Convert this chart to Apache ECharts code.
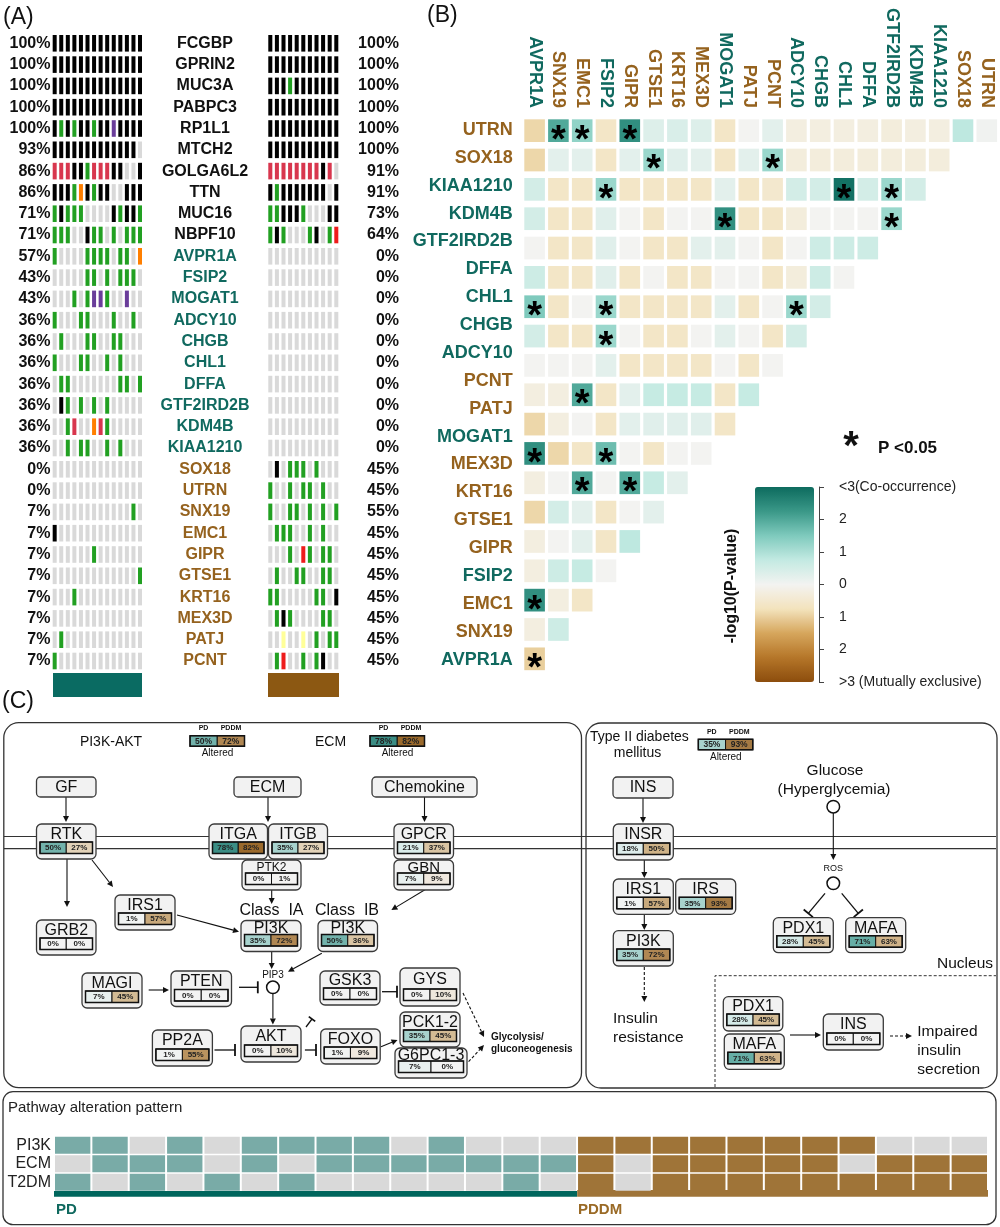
<!DOCTYPE html>
<html><head><meta charset="utf-8">
<script src="https://cdn.jsdelivr.net/npm/echarts@6/dist/echarts.min.js"></script>
<style>html,body{margin:0;padding:0;background:#fff}#c{width:1000px;height:1227px}</style>
</head><body><div id="c"></div>
<script>
// ================= DATA =================
const genes = ['FCGBP','GPRIN2','MUC3A','PABPC3','RP1L1','MTCH2','GOLGA6L2','TTN','MUC16','NBPF10',
  'AVPR1A','FSIP2','MOGAT1','ADCY10','CHGB','CHL1','DFFA','GTF2IRD2B','KDM4B','KIAA1210',
  'SOX18','UTRN','SNX19','EMC1','GIPR','GTSE1','KRT16','MEX3D','PATJ','PCNT'];
const pdPctLabels = ['100%','100%','100%','100%','100%','93%','86%','86%','71%','71%',
  '57%','43%','43%','36%','36%','36%','36%','36%','36%','36%',
  '0%','0%','7%','7%','7%','7%','7%','7%','7%','7%'];
const pddmPctLabels = ['100%','100%','100%','100%','100%','100%','91%','91%','73%','64%',
  '0%','0%','0%','0%','0%','0%','0%','0%','0%','0%',
  '45%','45%','55%','45%','45%','45%','45%','45%','45%','45%'];
// K truncating/black, G missense/green, P purple, R crimson, O orange, Y yellow, r red, . none
const pdAlterations = ['KKKKKKKKKKKKKK','KKKKKKKKKKKKKK','KKKKKKKKKKKKKK','KKKKKKKKKKKKKK','KGKGKKGKKPKKKK',
  'KKKKKKKKKKKKK.','RRRKKGRRRKK..K','KKKGOKGKK..KKK','GKGGG....KGKKG','GGG..KGG.G.GGG',
  'G....GGGG.GG.O','.....GG.G.GGG.','...G.GPPG..P..','G...GG...G..G.','.G...GG..GG...',
  'G...GG..G.G...','.GG.......GG.G','.KG.G.G.G.....','..GR..ORG.....','..G.GG..G.G...',
  '..............','..............','............G.','K.............','......G.......',
  '.............G','...G..........','..............','.G............','G.............'];
const pddmAlterations = ['KKKKKKKKKKK','KKKKKKKKKKK','KKKGKKKKKKK','KKKKKKKKKKK','KKKKKKKKKKK',
  'KKKKKKKKKKK','RRRRRRRRKR.','KGKKKKKKK.K','GGKKKG...KK','GKG...GK.Gr',
  '...........','...........','...........','...........','...........',
  '...........','...........','...........','...........','...........',
  '.K.GGG.G...','G..G.GG.G..','G..GG.G.G.G','.GGG..G.G..','...G.rG.GG.',
  '.G..GG..GG.','GG.....GG.K','.GKG....GG.','..Y..Y.G.GG','.Gr..G.GK..'];

const heatGenes = ['AVPR1A','SNX19','EMC1','FSIP2','GIPR','GTSE1','KRT16','MEX3D','MOGAT1','PATJ',
  'PCNT','ADCY10','CHGB','CHL1','DFFA','GTF2IRD2B','KDM4B','KIAA1210','SOX18','UTRN'];
const heatValues = [
 [-0.9,2.0,1.3,-0.6,2.4,0.35,0.4,0.35,-0.6,0,0.25,-0.25,-0.25,-0.25,-0.25,-0.3,-0.25,-0.25,0.8,0.05],
 [-0.9,0.25,0.25,-0.6,0.25,1.2,0.3,0.25,-0.6,0.25,1.2,-0.3,-0.3,-0.3,-0.3,-0.3,-0.3,-0.3],
 [0.5,-0.6,-0.6,1.2,-0.6,-0.6,-0.6,-0.6,0.25,-0.6,-0.5,0.5,0.5,2.9,0.5,1.2,0.5],
 [0.5,-0.6,-0.6,0.3,0,-0.6,0,0,2.4,-0.6,-0.6,-0.3,0,0,0,1.2],
 [0,-0.6,-0.6,0.3,0,-0.6,-0.6,0.25,0.25,0,-0.6,0,0.6,0.6,0.6],
 [0.6,-0.6,-0.6,0.3,-0.6,0,-0.6,-0.6,0,0,-0.6,-0.3,0.6,0],
 [1.5,-0.6,0,1.2,-0.6,-0.6,-0.6,-0.6,0.25,-0.6,0,1.2,0.5],
 [0.5,-0.6,-0.6,1.2,0,-0.6,-0.6,0,0.25,0,-0.6,0.5],
 [0,0,0,0.25,-0.6,-0.6,-0.6,-0.6,0,-0.6,0],
 [-0.25,-0.25,2.0,-0.6,0.25,0.7,0.7,0.7,-0.6,0.7],
 [-0.9,-0.25,0,-0.6,0.25,0.3,0.3,0.3,-0.6],
 [2.4,-0.9,-0.6,1.7,0,-0.6,0,0],
 [-0.25,0,2.0,0,2.0,0.7,0.25],
 [-0.9,0.5,0.25,-0.6,0,0.25],
 [-0.25,0,0.25,-0.6,0.8],
 [-0.25,0.6,0.7,0],
 [2.4,-0.25,-0.6],
 [-0.25,0.6],
 [-1.0]
];
const heatStars = [[1,2,4],[5,10],[3,13,15],[8,15],[],[],[0,3,11],[3],[],[2],[],[0,3],[2,4],[],[],[],[0],[],[0]];
const colorbarTicks = [-3,-2,-1,0,1,2,3];

const pathwayRows = ['PI3K','ECM','T2DM'];
const pathwayPD = [
 [1,1,0,1,0,1,1,1,1,0,1,0,0,0],
 [0,1,1,1,0,1,0,1,1,1,1,1,1,1],
 [1,0,1,0,1,0,1,0,0,0,0,0,1,0]];
const pathwayPDDM = [
 [1,1,1,1,1,1,1,1,0,0,0],
 [1,0,1,1,1,1,1,0,1,1,1],
 [1,0,1,1,1,1,1,1,1,1,1]];

const nodeNames = ['RTK','ITGA','ITGB','PTK2','GPCR','GBN','IRS1','GRB2','PI3K','PI3K','MAGI','PTEN','GSK3','GYS',
  'AKT','PP2A','FOXO','PCK1-2','G6PC1-3','INSR','IRS1','IRS','PI3K','PDX1','MAFA','PDX1','MAFA','INS'];
const nodePD =   [50,78,35,0,21,7,1,0,35,50,7,0,0,0,0,1,1,35,7,18,1,35,35,28,71,28,71,0];
const nodePDDM = [27,82,27,1,37,9,57,0,72,36,45,0,0,10,10,55,9,45,0,50,57,93,72,45,63,45,63,0];
const pathwayPDAltered = [50,78,35];
const pathwayPDDMAltered = [72,82,93];

// ================= LAYOUT / STYLE =================
const F = '"Liberation Sans", Arial, sans-serif';
const TEAL = '#10695f', BROWN = '#95621e';
const CODE = 'KGPROYr.';
const CODE_COL = ['#000000','#22a022','#6a3d9a','#d8364e','#ff7f00','#ffff99','#ee1c1c','#d9d9d9'];
function geneColor(name){ const i = genes.indexOf(name); return i < 10 ? '#111' : (i < 20 ? TEAL : BROWN); }
function range(n){ return Array.from({length:n},(_, i)=>String(i)); }

function hex(h){ return [1,3,5].map(i=>parseInt(h.substr(i,2),16)); }
function mix(a,b,t){ const pa=hex(a), pb=hex(b); return 'rgb('+pa.map((x,i)=>Math.round(x+(pb[i]-x)*t)).join(',')+')'; }
function lerp(stops, v){ for (let k=1;k<stops.length;k++){ if (v<=stops[k][0]){ const t=(v-stops[k-1][0])/(stops[k][0]-stops[k-1][0]); return mix(stops[k-1][1],stops[k][1],t);} } return stops[stops.length-1][1]; }
const PD_STOPS = [[0,'#f3f3f3'],[10,'#e3eeed'],[28,'#d5eae8'],[35,'#a7d2cd'],[50,'#72b2ab'],[71,'#66aea6'],[78,'#3b8d84'],[100,'#1d7a70']];
const PDDM_STOPS = [[0,'#f3f3f3'],[10,'#eee7dc'],[27,'#e2d2b8'],[37,'#d9c4a3'],[45,'#d3bb94'],[50,'#cfb388'],[55,'#b9935f'],[57,'#c8a97c'],[63,'#d0b389'],[72,'#b08753'],[82,'#9b6a2c'],[93,'#a47a44'],[100,'#a47a44']];
const pdColor = v => lerp(PD_STOPS, v);
const pddmColor = v => lerp(PDDM_STOPS, v);

// ---------- series data builders ----------
function onco(alts){ const d=[]; alts.forEach((s,row)=>{ for (let c=0;c<s.length;c++) d.push([c,row,CODE.indexOf(s[c])]); }); return d; }
const heatData = [];
heatValues.forEach((rowVals,r)=>rowVals.forEach((v,c)=>heatData.push([c,r,v,heatStars[r].indexOf(c)>=0?1:0])));
const pathData = [];
pathwayRows.forEach((_,r)=>{
  pathwayPD[r].forEach((v,c)=>pathData.push([c,r,v,0]));
  pathwayPDDM[r].forEach((v,c)=>pathData.push([c+pathwayPD[r].length,r,v,1]));
});

function barRender(wr,hr){
  return function(params, api){
    const p = api.coord([api.value(0), api.value(1)]); const s = api.size([1,1]);
    const w = s[0]*wr, h = s[1]*hr;
    return {type:'rect', shape:{x:p[0]-w/2, y:p[1]-h/2, width:w, height:h}, style:{fill:CODE_COL[api.value(2)]}};
  };
}
function heatRender(params, api){
  const p = api.coord([api.value(0), api.value(1)]); const s = api.size([1,1]);
  const w = s[0]*0.866, h = s[1]*0.774;
  const ch = [{type:'rect', shape:{x:p[0]-w/2, y:p[1]-h/2, width:w, height:h}, style:{fill:api.visual('color')}}];
  if (api.value(3)) ch.push({type:'text', x:p[0], y:p[1]+11, style:{text:'*', fontSize:38, fontWeight:'bold', fontFamily:F, fill:'#000', align:'center', verticalAlign:'middle'}});
  return {type:'group', children:ch};
}
function pathRender(params, api){
  const p = api.coord([api.value(0), api.value(1)]); const s = api.size([1,1]);
  const w = s[0]-2, h = s[1]-1.6;
  const fill = api.value(2) ? (api.value(3) ? '#9f7438' : '#79aba7') : '#d9d9d9';
  return {type:'rect', shape:{x:p[0]-w/2, y:p[1]-h/2, width:w, height:h}, style:{fill}};
}

// ---------- graphic helpers ----------
function txt(x,y,s,fs,opt){ return {type:'text', x, y, silent:true, style:Object.assign({text:s, fontSize:fs, fontFamily:F, fill:'#111', align:'center', verticalAlign:'middle'}, opt||{})}; }
function line(x1,y1,x2,y2,opt){ return {type:'line', silent:true, shape:{x1,y1,x2,y2}, style:Object.assign({stroke:'#111', lineWidth:1.1}, opt||{})}; }
function arrow(x1,y1,x2,y2,dashed){
  const a=Math.atan2(y2-y1,x2-x1), L=6, W=3;
  const bx=x2-L*Math.cos(a), by=y2-L*Math.sin(a), px=-Math.sin(a)*W, py=Math.cos(a)*W;
  const st = dashed ? {lineDash:[3,2]} : {};
  return [line(x1,y1,bx,by,st), {type:'polygon', silent:true, shape:{points:[[x2,y2],[bx+px,by+py],[bx-px,by-py]]}, style:{fill:'#111'}}];
}
function inhibit(x1,y1,x2,y2,bar){
  const a=Math.atan2(y2-y1,x2-x1), px=-Math.sin(a)*bar/2, py=Math.cos(a)*bar/2;
  return [line(x1,y1,x2,y2,{lineWidth:1.3}), line(x2+px,y2+py,x2-px,y2-py,{lineWidth:1.8})];
}
function circle(cx,cy){ return {type:'circle', silent:true, shape:{cx,cy,r:6.3}, style:{fill:'#fff', stroke:'#111', lineWidth:1.5}}; }
function frame(x,y,w,h,r){ return {type:'rect', silent:true, shape:{x,y,width:w,height:h,r}, style:{fill:'none', stroke:'#333', lineWidth:1.3}}; }
function labelBox(x,y,w,h,s){ return [{type:'rect', silent:true, shape:{x,y,width:w,height:h,r:4}, style:{fill:'#f2f2f2', stroke:'#3a3a3a', lineWidth:1.3}}, txt(x+w/2,y+h/2+0.5,s,16)]; }
function pctCells(x,y,w,h,pd,pddm,fs){
  const cw=w/2;
  return [
    {type:'rect', silent:true, shape:{x,y,width:cw,height:h}, style:{fill:pdColor(pd), stroke:'#111', lineWidth:1}},
    {type:'rect', silent:true, shape:{x:x+cw,y,width:cw,height:h}, style:{fill:pddmColor(pddm), stroke:'#111', lineWidth:1}},
    {type:'rect', silent:true, shape:{x,y,width:w,height:h}, style:{fill:'none', stroke:'#111', lineWidth:1.5}},
    txt(x+cw/2, y+h/2+0.5, pd+'%', fs, {fontWeight:'bold', fill:'#222'}),
    txt(x+cw*1.5, y+h/2+0.5, pddm+'%', fs, {fontWeight:'bold', fill:'#222'})
  ];
}
// node box positions (layout only): x, y, w, h, name font size
const nodeLayout = [
 [36.5,824,59.5,35],[209,824,58.5,35],[268.5,824,59,35],[242,860,59,30,12],[394,824,59.5,35],[394,860,59.5,30,15],
 [115,895,60,35],[36.5,920,59.5,35],[241,920.5,60,31],[318,920.5,59.5,31],[82,973,60,35],[171,971,60.5,35.5],
 [320,971,60,34],[400,968,60,38],[241,1026,60,36],[152.4,1030,60,36],[320.7,1029,59.5,35],[400,1012,60,35],[395,1048,72,30],
 [613.3,824,60,36],[613.3,879,60,35.3],[675.7,879,60,35.3],[613.3,930.7,60,35.3],[773.3,917.7,60,35],[845.7,917.7,60,35],
 [723.3,996.7,59.5,34.3],[724.3,1034,60,35.3],[823.3,1014,60,36]
];
function nodeBox(i){
  const [x,y,w,h,nf] = nodeLayout[i];
  const cellTop = y+h-17;
  return [
    {type:'rect', silent:true, shape:{x,y,width:w,height:h,r:5}, style:{fill:'#f2f2f2', stroke:'#3a3a3a', lineWidth:1.3}},
    txt(x+w/2, y+(h-17)/2+1.5, nodeNames[i], nf||16)
  ].concat(pctCells(x+3.5, cellTop, w-7, 11.5, nodePD[i], nodePDDM[i], 8));
}
function legend(x,y,k){
  return [txt(x+13.5,y-7.5,'PD',7,{fontWeight:'bold'}), txt(x+41,y-7.5,'PDDM',7,{fontWeight:'bold'})]
    .concat(pctCells(x,y,54.5,10.5,pathwayPDAltered[k],pathwayPDDMAltered[k],8.5))
    .concat([txt(x+27.5,y+18,'Altered',10)]);
}

let G = [];
// panel labels
G.push(txt(3,18,'(A)',23,{align:'left'}), txt(427,16,'(B)',23,{align:'left'}), txt(2,702,'(C)',23,{align:'left'}));
// group bars panel A
G.push({type:'rect', silent:true, shape:{x:53,y:673,width:89,height:24}, style:{fill:'#0a6b62'}});
G.push({type:'rect', silent:true, shape:{x:268,y:673,width:71,height:24}, style:{fill:'#8c5812'}});
// panel B legend texts
G.push(txt(851,448,'*',40,{fontWeight:'bold'}), txt(878,448,'P <0.05',17,{fontWeight:'bold', align:'left'}));
G.push({type:'text', x:732, y:586, rotation:Math.PI/2, silent:true, style:{text:'-log10(P-value)', fontSize:16, fontWeight:'bold', fontFamily:F, fill:'#111', align:'center', verticalAlign:'middle'}});
// panel C frames and membrane
G.push(frame(3.8,722.7,577.7,365,15), frame(586,723,411,365,15), frame(3,1091.7,993,133,10));
G.push(line(4,836.5,996,836.5,{lineWidth:1.2,stroke:'#333'}), line(4,848.7,996,848.7,{lineWidth:1.2,stroke:'#333'}));
// titles & legends
G.push(txt(111,742,'PI3K-AKT',14), txt(330.5,742,'ECM',14));
G = G.concat(legend(190,735.7,0), legend(370,735.7,1), legend(698.3,739.3,2));
G.push(txt(590,737,'Type II diabetes',14,{align:'left'}), txt(637.5,753,'mellitus',14));
// arrows (left box)
[
 arrow(66,797,66,822), arrow(268,797,268,822), arrow(424.5,797,424.5,822),
 arrow(67,859,67,907), arrow(92,860,113,887), arrow(271.7,890,271.7,904),
 arrow(432.8,885,391.4,910), arrow(177,915,239,931.7), arrow(271.7,951.5,271.7,969),
 arrow(321.8,953.3,288,971.7), arrow(148.7,990,169,990), arrow(272.9,993.6,272.9,1024.5),
 arrow(381,1046.7,397.5,1040), arrow(463,993,484,1037,true), arrow(468.6,1061.7,484,1045,true),
 inhibit(239,987.3,257.8,987.3,12), inhibit(382,991.7,397,991.7,12), inhibit(214.5,1050,235,1050,12),
 inhibit(304.9,1050,316,1050,12), inhibit(306,1027,312,1019,8),
 // right box
 arrow(643,798,643,823), arrow(644.3,860,644.3,878), arrow(644.3,914.3,644.3,930),
 arrow(644.3,967,644.3,1002,true), arrow(833.3,813,833.3,860),
 inhibit(825,893.3,808.3,913.3,12), inhibit(841.7,893.3,858.3,913.3,12),
 arrow(790,1035,821,1035), arrow(890,1036,912,1036,true)
].forEach(a=>{ G = G.concat(a); });
G.push(circle(272.9,987.3), circle(833.3,806.7), circle(833.3,883.3));
// label-only boxes
G = G.concat(labelBox(36.5,777,59.5,20,'GF'), labelBox(234,777,67,20,'ECM'), labelBox(372,777,105,20,'Chemokine'), labelBox(613,777,60,21,'INS'));
// gene nodes
nodeNames.forEach((_,i)=>{ G = G.concat(nodeBox(i)); });
// other texts panel C
G.push(txt(271.5,911,'Class  IA',16), txt(347,911,'Class  IB',16), txt(273,975.5,'PIP3',10));
G.push(txt(491,1037.5,'Glycolysis/',10,{fontWeight:'bold',align:'left'}), txt(491,1049.5,'gluconeogenesis',10,{fontWeight:'bold',align:'left'}));
G.push(txt(835,771,'Glucose',15.5), txt(834,790,'(Hyperglycemia)',15.5), txt(833.3,869,'ROS',9));
G.push(txt(613,1019,'Insulin',15.5,{align:'left'}), txt(613,1038,'resistance',15.5,{align:'left'}));
G.push(txt(993,964,'Nucleus',15.5,{align:'right'}));
G.push({type:'polyline', silent:true, shape:{points:[[715,1087],[715,975.7],[996,975.7]]}, style:{stroke:'#333', lineWidth:1, lineDash:[3,2], fill:'none'}});
G.push(txt(917.3,1032,'Impaired',15.5,{align:'left'}), txt(917.3,1051,'insulin',15.5,{align:'left'}), txt(917.3,1070,'secretion',15.5,{align:'left'}));
// bottom panel
G.push(txt(8,1108,'Pathway alteration pattern',15,{align:'left', fill:'#222'}));
G.push({type:'rect', silent:true, shape:{x:54,y:1191,width:523.2,height:5.7}, style:{fill:'#00665d'}});
G.push({type:'rect', silent:true, shape:{x:577.2,y:1190,width:410.8,height:6.7}, style:{fill:'#9f7438'}});
G.push(txt(56,1210,'PD',15,{fontWeight:'bold', align:'left', fill:TEAL}), txt(578,1210,'PDDM',15,{fontWeight:'bold', align:'left', fill:'#9a6a26'}));

// ================= OPTION =================
const noLine = {axisLine:{show:false}, axisTick:{show:false}, splitLine:{show:false}};
const option = {
  animation:false,
  textStyle:{fontFamily:F},
  grid:[
    {left:51.4, top:32.65, width:91.9, height:639},
    {left:267, top:32.65, width:72.6, height:639},
    {left:522.7, top:116, width:476, height:557.5},
    {left:54, top:1136, width:934, height:55.5},
    {left:819, top:487, width:1, height:195}
  ],
  xAxis:[
    {gridIndex:0, type:'category', data:range(14), show:false},
    {gridIndex:1, type:'category', data:range(11), show:false},
    Object.assign({gridIndex:2, type:'category', data:heatGenes, position:'top',
      axisLabel:{interval:0, rotate:90, margin:8, fontSize:18, fontWeight:'bold', fontFamily:F, color:v=>geneColor(v)}}, noLine),
    {gridIndex:3, type:'category', data:range(25), show:false},
    {gridIndex:4, type:'value', min:0, max:1, show:false}
  ],
  yAxis:[
    Object.assign({gridIndex:0, type:'category', data:genes, inverse:true,
      axisLabel:{interval:0, margin:1, fontSize:16, fontWeight:'bold', fontFamily:F, color:'#111', formatter:(v,i)=>pdPctLabels[i]}}, noLine),
    Object.assign({gridIndex:1, type:'category', data:genes, inverse:true, position:'left',
      axisLabel:{interval:0, margin:62, align:'center', fontSize:16, fontWeight:'bold', fontFamily:F, color:v=>geneColor(v)}}, noLine),
    Object.assign({gridIndex:1, type:'category', data:genes, inverse:true, position:'right',
      axisLabel:{interval:0, margin:59.4, align:'right', fontSize:16, fontWeight:'bold', fontFamily:F, color:'#111', formatter:(v,i)=>pddmPctLabels[i]}}, noLine),
    {gridIndex:2, type:'category', data:range(heatValues.length), inverse:true, show:false},
    Object.assign({gridIndex:2, type:'category', data:heatGenes.slice().reverse(), inverse:true, position:'left',
      axisLabel:{interval:0, margin:10, fontSize:18, fontWeight:'bold', fontFamily:F, color:v=>geneColor(v)}}, noLine),
    Object.assign({gridIndex:3, type:'category', data:pathwayRows, inverse:true,
      axisLabel:{interval:0, margin:3, fontSize:16, fontFamily:F, color:'#222'}}, noLine),
    {gridIndex:4, type:'value', min:colorbarTicks[0], max:colorbarTicks[colorbarTicks.length-1], interval:1, position:'right',
      splitLine:{show:false}, axisLine:{show:true, lineStyle:{color:'#444', width:1}},
      axisTick:{show:true, length:5, lineStyle:{color:'#444'}},
      axisLabel:{margin:19, fontSize:14, fontFamily:F, color:'#222',
        formatter:v=> v===3 ? '<3(Co-occurrence)' : (v===-3 ? '>3 (Mutually exclusive)' : String(Math.abs(v)))}}
  ],
  visualMap:[{type:'continuous', seriesIndex:2, dimension:2, min:-3, max:3, left:755, top:487,
    itemWidth:59, itemHeight:195, calculable:false, padding:0, text:null, showLabel:false, hoverLink:false,
    inRange:{color:['#8c4d0d','#b57629','#d6a65c','#f3e3bd','#f3f3f1','#c3eae2','#7fcabd','#3a9888','#0d6b5e']}}],
  series:[
    {type:'custom', xAxisIndex:0, yAxisIndex:0, data:onco(pdAlterations), renderItem:barRender(0.61,0.78), silent:true},
    {type:'custom', xAxisIndex:1, yAxisIndex:1, data:onco(pddmAlterations), renderItem:barRender(0.61,0.78), silent:true},
    {type:'custom', xAxisIndex:2, yAxisIndex:3, data:heatData, renderItem:heatRender, silent:true, encode:{x:0, y:1}},
    {type:'custom', xAxisIndex:3, yAxisIndex:5, data:pathData, renderItem:pathRender, silent:true}
  ],
  graphic:{elements:G}
};
const chart = echarts.init(document.getElementById('c'), null, {renderer:'canvas'});
chart.setOption(option);
</script></body></html>
